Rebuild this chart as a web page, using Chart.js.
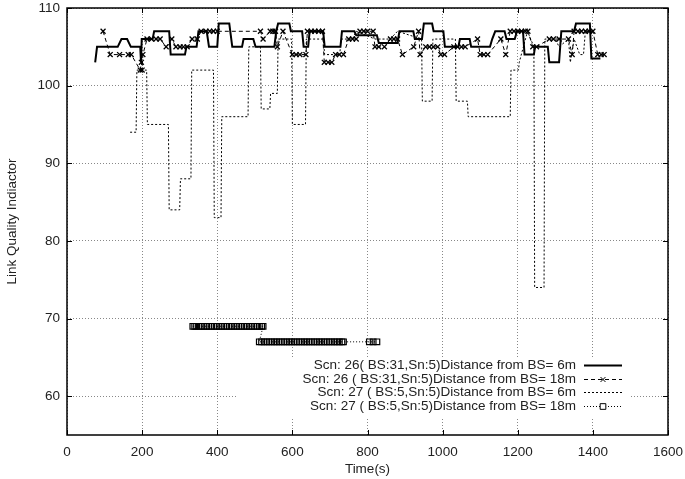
<!DOCTYPE html>
<html lang="en">
<head>
    <meta charset="UTF-8">
    <title>Link Quality Indicator</title>
    <script src="https://cdn.jsdelivr.net/npm/chart.js"></script>
    <style>
        body { margin: 0; background: #fff; }
        #wrap { width: 685px; height: 479px; }
    </style>
</head>
<body>
    <div id="wrap"><canvas id="lqiChart" width="685" height="479"></canvas></div>
    <script>
        // axis ticks
        var xTicks = [0, 200, 400, 600, 800, 1000, 1200, 1400, 1600];
        var yTicks = [60, 70, 80, 90, 100, 110];

        var seriesNames = [
            'Scn: 26( BS:31,Sn:5)Distance from BS= 6m',
            'Scn: 26 ( BS:31,Sn:5)Distance from BS= 18m',
            'Scn: 27 ( BS:5,Sn:5)Distance from BS= 6m',
            'Scn: 27 ( BS:5,Sn:5)Distance from BS= 18m'
        ];

        // Scn 26, 6m (solid)
        var s26n6Time = [75, 80, 135, 145, 160, 170, 195, 197, 199, 228, 232, 272, 276, 314, 318, 345, 350, 372, 378, 400,
            404, 432, 440, 466, 470, 496, 502, 552, 557, 562, 592, 596, 626, 630, 642, 646, 682, 686, 728, 732,
            765, 770, 825, 830, 880, 885, 922, 926, 945, 950, 972, 976, 1002, 1006, 1042, 1046, 1072, 1076, 1126, 1132,
            1140, 1165, 1170, 1192, 1198, 1214, 1218, 1243, 1246, 1280, 1284, 1310, 1316, 1350, 1355, 1392, 1396, 1420];
        var s26n6LQI = [103, 105, 105, 106, 106, 105, 105, 103, 106, 106, 107, 107, 104, 104, 105, 105, 107, 107, 105, 105,
            108, 108, 105, 105, 106, 106, 105, 105, 107, 108, 108, 107, 107, 105, 105, 107, 107, 105, 105, 107,
            107, 106.5, 106.5, 105.5, 105.5, 107, 107, 106, 106, 108, 108, 107, 107, 105, 105, 106, 106, 105, 105, 106,
            107, 107, 106, 106, 107, 107, 104, 104, 105, 105, 103, 103, 107, 107, 108, 108, 103.5, 103.5];

        // Scn 26, 18m (dashed, crosses)
        var s26n18Time = [96, 115, 140, 163, 171, 195, 198, 200, 202, 213, 225, 237, 248, 264, 279, 290, 301, 310, 320, 333,
            347, 357, 370, 380, 390, 400, 515, 522, 541, 548, 555, 560, 575, 600, 610, 620, 636, 640, 650, 660,
            670, 680, 685, 695, 705, 715, 725, 736, 750, 760, 770, 780, 790, 800, 815, 820, 830, 845, 861, 870,
            880, 893, 923, 936, 940, 955, 965, 975, 987, 995, 1005, 1030, 1040, 1050, 1060, 1093, 1100, 1110, 1120, 1155,
            1168, 1180, 1190, 1200, 1210, 1220, 1227, 1240, 1250, 1284, 1295, 1310, 1335, 1345, 1350, 1360, 1370, 1380, 1390, 1400,
            1413, 1422, 1430];
        var s26n18LQI = [107, 104, 104, 104, 104, 102, 103, 102, 104, 106, 106, 106, 106, 105, 106, 105, 105, 105, 105, 106,
            106, 107, 107, 107, 107, 107, 107, 106, 107, 107, 107, 105, 107, 104, 104, 104, 104, 107, 107, 107,
            107, 107, 103, 103, 103, 104, 104, 104, 106, 106, 106, 107, 107, 107, 107, 105, 105, 105, 106, 106,
            106, 104, 105, 107, 104, 105, 105, 105, 105, 104, 104, 105, 105, 105, 105, 106, 104, 104, 104, 106,
            104, 107, 107, 107, 107, 107, 107, 105, 105, 106, 106, 106, 106, 104, 107, 107, 107, 107, 107, 107,
            104, 104, 104];

        // Scn 27, 6m (dotted)
        var s27n6Time = [168, 184, 186, 212, 214, 270, 272, 300, 302, 330, 332, 390, 392, 410, 412, 482, 484, 515, 517, 540,
            542, 560, 562, 598, 600, 635, 637, 682, 686, 726, 730, 760, 770, 820, 830, 860, 880, 944, 946, 972,
            974, 1034, 1036, 1066, 1068, 1180, 1182, 1202, 1204, 1226, 1243, 1245, 1270, 1272, 1300, 1310, 1335, 1340, 1350, 1365,
            1375, 1380, 1400];
        var s27n6LQI = [94, 94, 102, 102, 95, 95, 84, 84, 88, 88, 102, 102, 83, 83, 96, 96, 105, 105, 97, 97,
            99, 99, 106, 106, 95, 95, 106, 106, 104, 104, 106, 106, 107, 106, 106, 106, 107, 106, 98, 98,
            106, 106, 98, 98, 96, 96, 102, 102, 103, 107, 105, 74, 74, 106, 106, 105, 106, 103, 106, 104,
            104, 107, 107];

        // Scn 27, 18m (dotted, squares)
        var s27n18Time = [335, 340, 345, 352, 358, 365, 372, 378, 385, 392, 398, 405, 412, 418, 425, 432, 438, 445, 452, 458,
            465, 472, 478, 485, 492, 498, 505, 512, 518, 522,
            512, 518, 525, 532, 538, 545, 552, 558, 565, 572, 578, 585, 592, 598, 605, 612, 618, 625, 632, 638,
            645, 652, 658, 665, 672, 678, 685, 692, 698, 705, 712, 718, 725, 732, 736, 805, 815, 825];
        var s27n18LQI = [69, 69, 69, 69, 69, 69, 69, 69, 69, 69, 69, 69, 69, 69, 69, 69, 69, 69, 69, 69,
            69, 69, 69, 69, 69, 69, 69, 69, 69, 69,
            67, 67, 67, 67, 67, 67, 67, 67, 67, 67, 67, 67, 67, 67, 67, 67, 67, 67, 67, 67,
            67, 67, 67, 67, 67, 67, 67, 67, 67, 67, 67, 67, 67, 67, 67, 67, 67, 67];

        function pairs(t, v) {
            return t.map(function(x, i) { return {x: x, y: v[i]}; });
        }

        var FONT = '"Liberation Sans", Arial, sans-serif';
        var TEXT = '#222';
        var FSIZE = 13.5;

        // frame, inner tick marks and the key box, gnuplot style
        var framePlugin = {
            id: 'frame',
            afterDatasetsDraw: function(chart) {
                var ctx = chart.ctx, a = chart.chartArea;
                var xs = chart.scales.x, ys = chart.scales.y;
                ctx.save();
                ctx.strokeStyle = '#000';
                ctx.lineWidth = 1;
                ctx.setLineDash([]);
                ctx.beginPath();
                xTicks.forEach(function(t) {
                    var p = Math.round(xs.getPixelForValue(t)) + 0.5;
                    ctx.moveTo(p, a.bottom); ctx.lineTo(p, a.bottom - 5);
                    ctx.moveTo(p, a.top); ctx.lineTo(p, a.top + 5);
                });
                yTicks.forEach(function(t) {
                    var p = Math.round(ys.getPixelForValue(t)) + 0.5;
                    ctx.moveTo(a.left, p); ctx.lineTo(a.left + 5, p);
                    ctx.moveTo(a.right, p); ctx.lineTo(a.right - 5, p);
                });
                ctx.stroke();

                // key
                var ds = chart.data.datasets;
                var rowY = [365, 379, 392, 406];
                ctx.fillStyle = '#fff';
                ctx.fillRect(237, 357, 392, 62);
                ctx.font = FSIZE + 'px ' + FONT;
                ctx.textAlign = 'right';
                ctx.textBaseline = 'middle';
                for (var i = 0; i < ds.length; i++) {
                    var y = rowY[i];
                    ctx.fillStyle = TEXT;
                    ctx.fillText(seriesNames[i], 576, y);
                    ctx.strokeStyle = '#000';
                    ctx.lineWidth = ds[i].borderWidth;
                    ctx.setLineDash(ds[i].borderDash || []);
                    ctx.beginPath();
                    ctx.moveTo(584, y + 0.5); ctx.lineTo(622, y + 0.5);
                    ctx.stroke();
                    ctx.setLineDash([]);
                    if (ds[i].pointRadius > 0) {
                        ctx.fillStyle = '#fff';
                        ctx.lineWidth = 1;
                        Chart.helpers.drawPoint(ctx, {
                            pointStyle: ds[i].pointStyle,
                            radius: ds[i].pointRadius,
                            borderWidth: 1,
                            rotation: 0
                        }, 603, y + 0.5);
                    }
                }

                ctx.strokeStyle = '#000';
                ctx.lineWidth = 1.5;
                ctx.strokeRect(a.left, a.top, a.right - a.left, a.bottom - a.top);
                ctx.restore();
            }
        };

        var ctx = document.getElementById('lqiChart').getContext('2d');
        var lqiChart = new Chart(ctx, {
            type: 'scatter',
            data: {
                datasets: [{
                    label: seriesNames[0],
                    data: pairs(s26n6Time, s26n6LQI),
                    showLine: true,
                    borderColor: '#000',
                    borderWidth: 2,
                    pointRadius: 0
                }, {
                    label: seriesNames[1],
                    data: pairs(s26n18Time, s26n18LQI),
                    showLine: true,
                    borderColor: '#000',
                    borderWidth: 1,
                    borderDash: [4, 3],
                    pointStyle: 'crossRot',
                    pointRadius: 3.5,
                    pointBorderWidth: 1.3,
                    pointBorderColor: '#000'
                }, {
                    label: seriesNames[2],
                    data: pairs(s27n6Time, s27n6LQI),
                    showLine: true,
                    borderColor: '#000',
                    borderWidth: 1,
                    borderDash: [2, 2],
                    pointRadius: 0
                }, {
                    label: seriesNames[3],
                    data: pairs(s27n18Time, s27n18LQI),
                    showLine: true,
                    borderColor: '#000',
                    borderWidth: 1,
                    borderDash: [1, 2],
                    pointStyle: 'rect',
                    pointRadius: 4,
                    pointBorderWidth: 1.2,
                    pointBorderColor: '#000',
                    pointBackgroundColor: 'rgba(255,255,255,0)'
                }]
            },
            options: {
                responsive: false,
                animation: false,
                layout: { padding: { left: 0, right: 17, top: 8, bottom: 0 } },
                plugins: {
                    legend: { display: false },
                    tooltip: { enabled: false }
                },
                scales: {
                    x: {
                        type: 'linear',
                        min: 0,
                        max: 1600,
                        afterBuildTicks: function(scale) {
                            scale.ticks = xTicks.map(function(v) { return {value: v}; });
                        },
                        afterFit: function(scale) {
                            scale.height = 44;
                            scale.paddingLeft = 0;
                            scale.paddingRight = 0;
                        },
                        ticks: {
                            color: TEXT, font: { family: FONT, size: FSIZE }, padding: 9, maxRotation: 0,
                            callback: function(v) { return String(v); }
                        },
                        grid: { color: '#888', lineWidth: 1, drawTicks: false },
                        border: { display: false, dash: [1, 2] },
                        title: { display: true, text: 'Time(s)', color: TEXT, font: { family: FONT, size: FSIZE }, padding: { top: 2, bottom: 2 } }
                    },
                    y: {
                        min: 55,
                        max: 110,
                        afterBuildTicks: function(scale) {
                            scale.ticks = yTicks.map(function(v) { return {value: v}; });
                        },
                        afterFit: function(scale) {
                            scale.width = 67;
                            scale.paddingTop = 0;
                            scale.paddingBottom = 0;
                        },
                        ticks: {
                            color: TEXT, font: { family: FONT, size: FSIZE }, padding: 7,
                            callback: function(v) { return String(v); }
                        },
                        grid: { color: '#888', lineWidth: 1, drawTicks: false },
                        border: { display: false, dash: [1, 2] },
                        title: { display: true, text: 'Link Quality Indiactor', color: TEXT, font: { family: FONT, size: FSIZE }, padding: { top: 4, bottom: 4 } }
                    }
                }
            },
            plugins: [framePlugin]
        });
    </script>
</body>
</html>
